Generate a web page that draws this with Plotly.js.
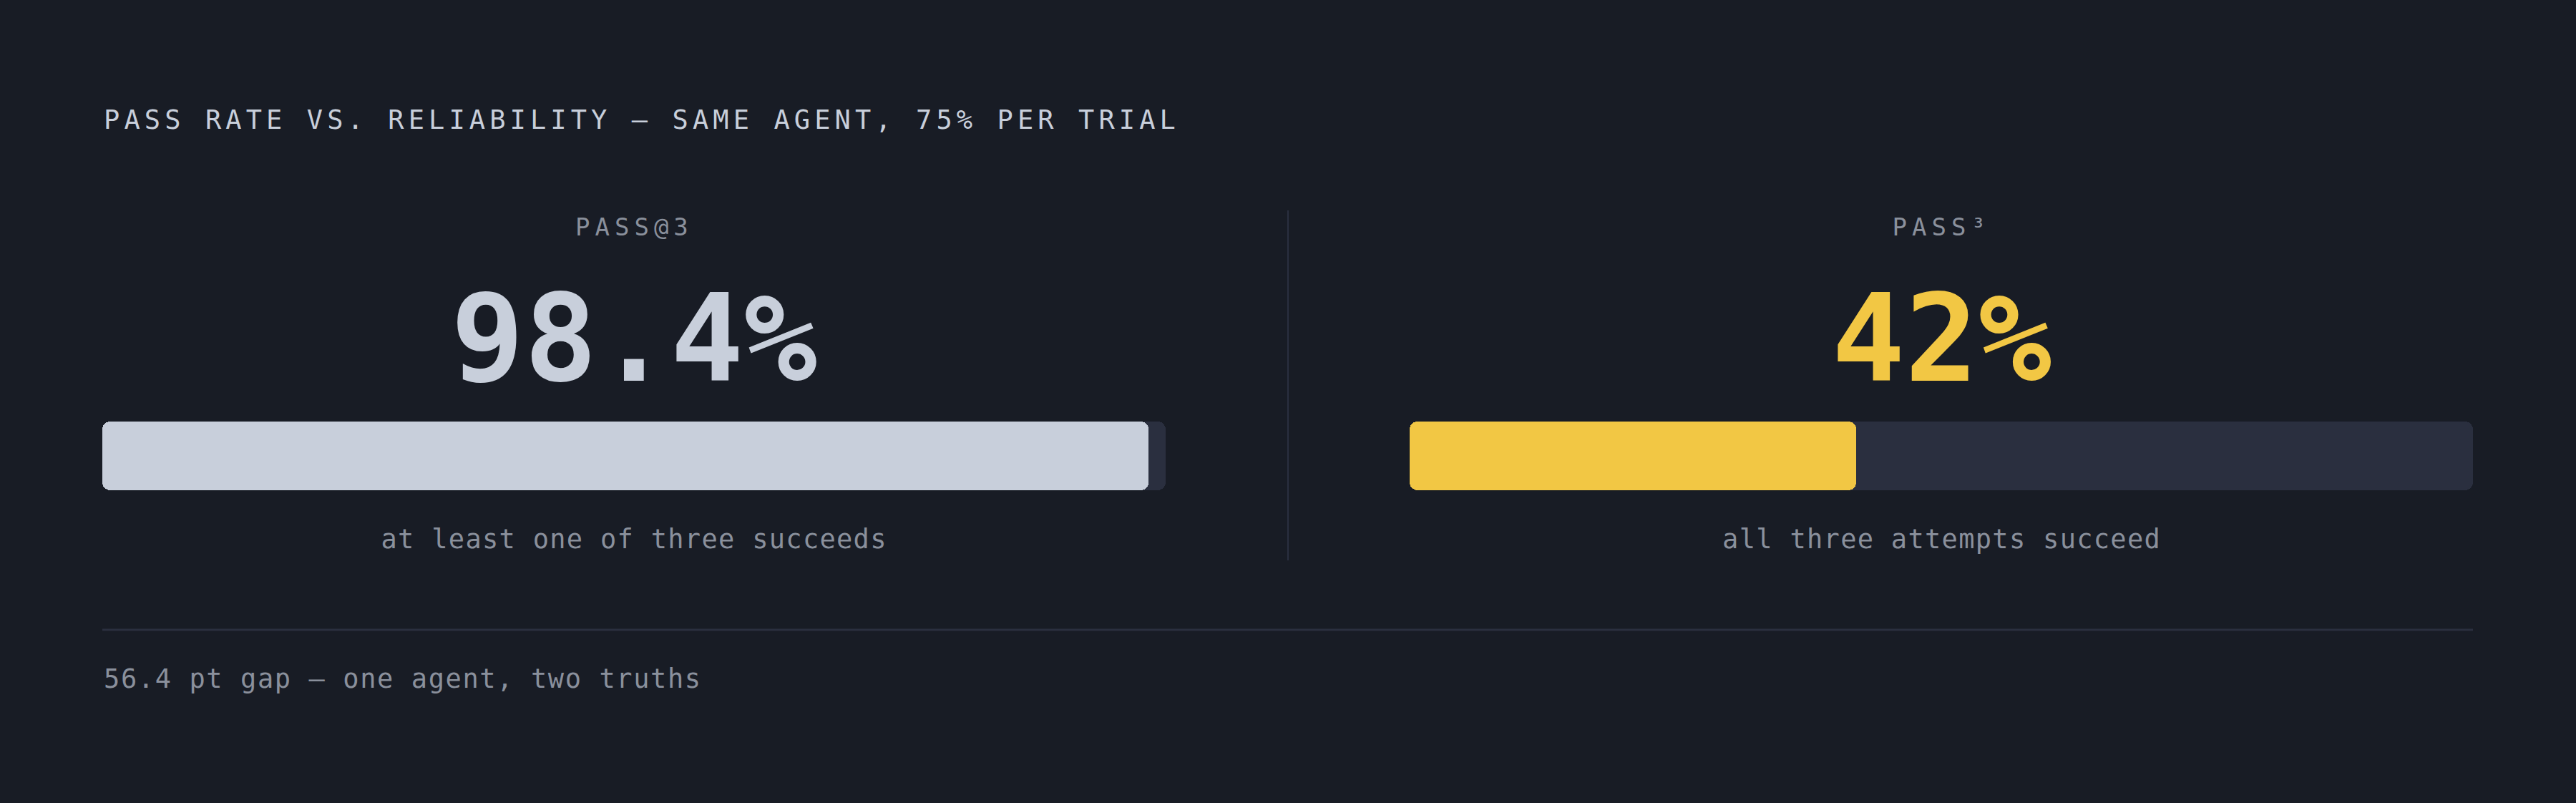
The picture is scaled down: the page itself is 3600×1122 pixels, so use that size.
<!DOCTYPE html>
<html>
<head>
<meta charset="utf-8">
<script src="https://cdn.plot.ly/plotly-3.0.1.min.js"></script>
<style>
  html, body { margin: 0; padding: 0; background: #181c25; }
  #myDiv { width: 3600px; height: 1122px; }
</style>
</head>
<body>
<div id="myDiv"></div>
<script>
// chart values
var metrics = ["PASS@3", "PASS\u00b3"];
var rates = [98.4, 42];
var notes = ["at least one of three succeeds", "all three attempts succeed"];
var fullScale = [100, 100];
var chartTitle = "PASS RATE VS. RELIABILITY \u2014 SAME AGENT, 75% PER TRIAL";
var footerTail = " pt gap \u2014 one agent, two truths";

var W = 3600, H = 1122;
var bg = "#181c25";
var track = "#2a2f3f";
var fills = ["#c8cfdb", "#f2c744"];
var bigColors = ["#c8cfdb", "#f2c744"];
var grey = "#8a909c";
var mono = "DejaVu Sans Mono, Liberation Mono, monospace";

function px(x) { return x / W; }
function py(y) { return 1 - y / H; }

// panel geometry (pixels)
var panelLeft = [143, 1970];
var panelRight = [1629, 3456];
var barTop = 589, barBottom = 685;

var data = [];
var spacing = [];
var annotations = [];

function addText(text, x, y, size, color, anchor, ls, bold) {
  annotations.push({
    text: text,
    x: px(x), y: py(y),
    xref: "paper", yref: "paper",
    xanchor: anchor, yanchor: "middle",
    align: anchor == "left" ? "left" : "center",
    showarrow: false,
    font: { family: mono, size: size, color: color, weight: bold ? 700 : 400 }
  });
  spacing.push(ls);
}

// with an explicit base plotly rounds both ends of the bar
function roundedBar(value, label, color, xa, ya) {
  data.push({
    type: "bar", orientation: "h",
    x: [value], y: [label], base: [0],
    xaxis: xa, yaxis: ya,
    marker: { color: color, cornerradius: 11, line: { width: 0 } },
    hoverinfo: "skip", showlegend: false
  });
}

addText(chartTitle, 143, 168, 37, "#c8cfdb", "left", 6.1, false);

for (var i = 0; i < metrics.length; i++) {
  var xa = i == 0 ? "x" : "x2";
  var ya = i == 0 ? "y" : "y2";
  roundedBar(fullScale[i], metrics[i], track, xa, ya);
  roundedBar(rates[i], metrics[i], fills[i], xa, ya);

  var cx = (panelLeft[i] + panelRight[i]) / 2;
  addText(metrics[i], cx, 317, 34, grey, "center", 7, false);
  addText(rates[i] + "%", cx, 473, 170, bigColors[i], "center", 0, true);
  addText(notes[i], cx, 753, 37, grey, "center", 1.3, false);
}

var gap = (rates[0] - rates[1]).toFixed(1);
addText(gap + footerTail, 143, 948, 37, grey, "left", 1.6, false);

function hiddenAxis(domain) {
  return {
    domain: domain, range: [0, 100],
    showgrid: false, zeroline: false, showticklabels: false,
    showline: false, ticks: "", fixedrange: true
  };
}
function hiddenCat(anchor) {
  return {
    domain: [py(barBottom), py(barTop)], anchor: anchor,
    showgrid: false, zeroline: false, showticklabels: false,
    showline: false, ticks: "", fixedrange: true
  };
}

var xaxis = hiddenAxis([px(panelLeft[0]), px(panelRight[0])]);
xaxis.anchor = "y";
var xaxis2 = hiddenAxis([px(panelLeft[1]), px(panelRight[1])]);
xaxis2.anchor = "y2";

var layout = {
  width: W, height: H,
  margin: { l: 0, r: 0, t: 0, b: 0 },
  paper_bgcolor: bg, plot_bgcolor: bg,
  barmode: "overlay", bargap: 0,
  xaxis: xaxis, xaxis2: xaxis2,
  yaxis: hiddenCat("x"), yaxis2: hiddenCat("x2"),
  shapes: [
    { type: "line", xref: "paper", yref: "paper",
      x0: px(1800), x1: px(1800), y0: py(294), y1: py(783),
      line: { color: track, width: 2 } },
    { type: "line", xref: "paper", yref: "paper",
      x0: px(143), x1: px(3456), y0: py(880), y1: py(880),
      line: { color: track, width: 3 } }
  ],
  annotations: annotations
};

Plotly.newPlot("myDiv", data, layout, { staticPlot: true }).then(function () {
  // plotly has no letter-spacing option, set it on the drawn text
  var texts = document.querySelectorAll("#myDiv .annotation-text");
  for (var k = 0; k < texts.length; k++) {
    if (spacing[k]) texts[k].style.letterSpacing = spacing[k] + "px";
  }
});
</script>
</body>
</html>
